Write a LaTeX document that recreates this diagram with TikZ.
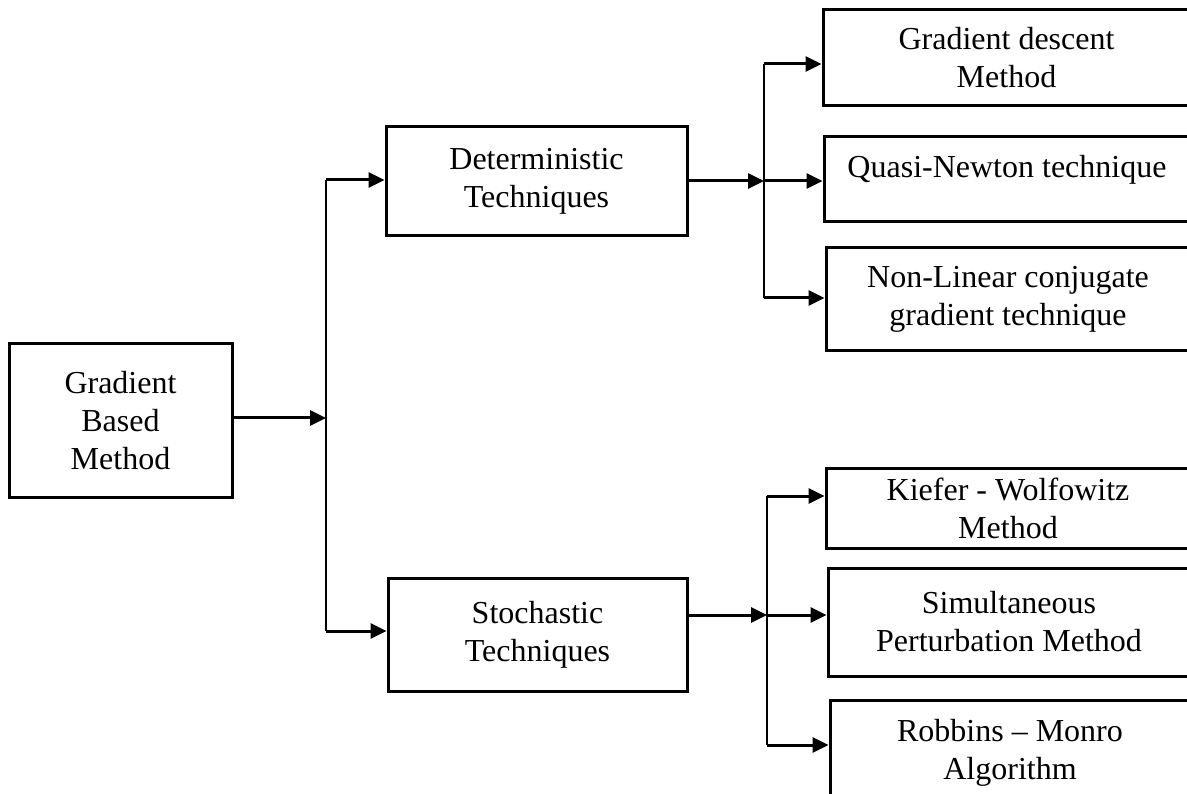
\documentclass[tikz,border=0pt]{standalone}
\usepackage{fontspec}
\setmainfont{Liberation Serif}
\usetikzlibrary{arrows.meta}
\begin{document}
\begin{tikzpicture}[x=1pt,y=-1pt,
  box/.style={draw, line width=3pt, align=center, inner sep=0pt,
    font=\fontsize{32}{38}\selectfont},
  link/.style={line width=3pt, -{Triangle[length=16pt,width=15pt]}},
  busline/.style={line width=2pt}]
\useasboundingbox (0,0) rectangle (1187,794);
\clip (0,0) rectangle (1187,794);

% root and the two families
\node[box, minimum width=223pt, minimum height=153pt] (g) at (120.5,420.5) {Gradient\\Based\\Method};
\node[box, minimum width=301pt, minimum height=109pt] (det) at (536.5,181.5) {Deterministic\\Techniques};
\node[box, minimum width=299pt, minimum height=113pt] (sto) at (537.5,634.5) {Stochastic\\Techniques};

% deterministic methods
\node[box, minimum width=367pt, minimum height=96pt] (gd) at (1006.5,58) {Gradient descent\\Method};
\node[box, minimum width=366pt, minimum height=85pt] (qn) at (1007,179.5) {\raisebox{10pt}[\height][\depth]{Quasi-Newton technique}};
\node[box, minimum width=364pt, minimum height=103pt] (nl) at (1008,299.5) {Non-Linear conjugate\\gradient technique};

% stochastic methods
\node[box, minimum width=364pt, minimum height=80pt] (kw) at (1008,508) {Kiefer - Wolfowitz\\Method};
\node[box, minimum width=362pt, minimum height=108pt] (sp) at (1009,622) {Simultaneous\\Perturbation Method};
\node[box, minimum width=360pt, minimum height=105pt] (rm) at (1010,752.5) {Robbins -- Monro\\Algorithm};

% junction points of the three buses
\coordinate (b1) at (326,418);
\coordinate (b1t) at (326,180);
\coordinate (b1b) at (326,631);
\coordinate (b2) at (764,181);
\coordinate (b2t) at (764,64);
\coordinate (b2b) at (764,298);
\coordinate (b3) at (767,615);
\coordinate (b3t) at (767,496);
\coordinate (b3b) at (767,745);

% root to families
\draw[link] (g.east |- b1) -- (b1);
\draw[busline] (b1t) -- (b1b);
\draw[link] (b1t) -- (det.west |- b1t);
\draw[link] (b1b) -- (sto.west |- b1b);

% deterministic branch
\draw[link] (det.east |- b2) -- (b2);
\draw[busline] (b2t) -- (b2b);
\draw[link] (b2t) -- (gd.west |- b2t);
\draw[link] (b2) -- (qn.west |- b2);
\draw[link] (b2b) -- (nl.west |- b2b);

% stochastic branch
\draw[link] (sto.east |- b3) -- (b3);
\draw[busline] (b3t) -- (b3b);
\draw[link] (b3t) -- (kw.west |- b3t);
\draw[link] (b3) -- (sp.west |- b3);
\draw[link] (b3b) -- (rm.west |- b3b);
\end{tikzpicture}
\end{document}
